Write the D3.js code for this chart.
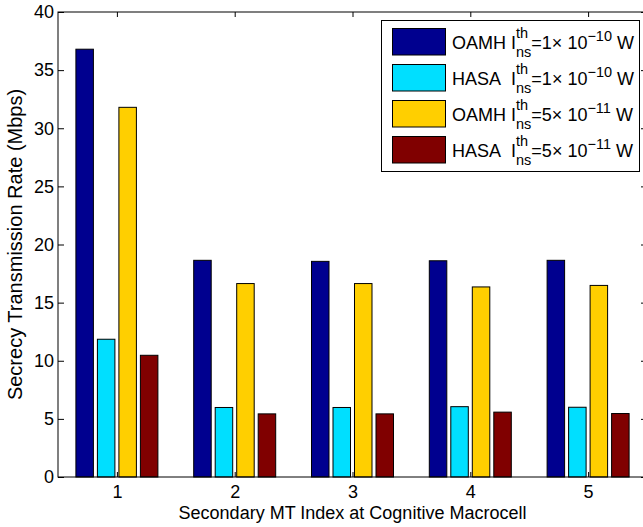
<!DOCTYPE html>
<html>
<head>
<meta charset="utf-8">
<script src="https://cdn.jsdelivr.net/npm/d3@7"></script>
<style>
  body { margin: 0; background: #fff; }
  svg { display: block; font-family: "Liberation Sans", Arial, Helvetica, sans-serif; }
  .axis text { font-size: 18px; fill: #000; }
  .axis line { stroke: #000; }
</style>
</head>
<body>
<div id="chart"></div>
<script>
// Data_____________________________________________________
const categories = [1, 2, 3, 4, 5];
const oamh1e10 = [36.8, 18.64, 18.55, 18.6, 18.64];
const hasa1e10 = [11.85, 5.98, 5.98, 6.05, 6.0];
const oamh5e11 = [31.8, 16.64, 16.64, 16.35, 16.48];
const hasa5e11 = [10.47, 5.43, 5.43, 5.58, 5.46];
const seriesNames = ['OAMH', 'HASA', 'OAMH', 'HASA'];
const seriesMant = ['1', '1', '5', '5'];
const seriesExp = ['\u221210', '\u221210', '\u221211', '\u221211'];
const seriesColors = ['#00008f', '#00dfff', '#ffcf00', '#800000'];
const yTicks = [0, 5, 10, 15, 20, 25, 30, 35, 40];

const series = [oamh1e10, hasa1e10, oamh5e11, hasa5e11];

// Layout___________________________________________________
const width = 643, height = 527;
const pLeft = 58, pRight = 647, pTop = 12, pBottom = 477;

const svg = d3.select('#chart')
    .append('svg')
    .attr('width', width)
    .attr('height', height);

const xScale = d3.scaleLinear().domain([0.5, 5.5]).range([pLeft, pRight]);
const yScale = d3.scaleLinear().domain([0, 40]).range([pBottom, pTop]);
const unit = xScale(1) - xScale(0.5);
const inner = d3.scaleBand()
    .domain(d3.range(series.length))
    .range([-unit * 0.73, unit * 0.73])
    .paddingInner(0.186)
    .paddingOuter(0.093);

// Bars_____________________________________________________
series.forEach((vals, s) => {
    svg.append('g')
        .selectAll('rect')
        .data(vals)
        .enter()
        .append('rect')
        .attr('x', (d, i) => xScale(categories[i]) + inner(s))
        .attr('width', inner.bandwidth())
        .attr('y', d => yScale(d))
        .attr('height', d => yScale(0) - yScale(d))
        .attr('fill', seriesColors[s])
        .attr('stroke', '#000')
        .attr('stroke-width', 1);
});

// Axes_____________________________________________________
svg.append('g')
    .attr('class', 'axis')
    .attr('transform', `translate(${pLeft},0)`)
    .call(d3.axisLeft(yScale).tickValues(yTicks).tickSize(-6).tickSizeOuter(0).tickPadding(4))
    .call(g => g.select('.domain').remove());
svg.append('g')
    .attr('class', 'axis')
    .attr('transform', `translate(${pRight},0)`)
    .call(d3.axisRight(yScale).tickValues(yTicks).tickSize(-6).tickSizeOuter(0).tickFormat(''))
    .call(g => g.select('.domain').remove());
svg.append('g')
    .attr('class', 'axis')
    .attr('transform', `translate(0,${pBottom})`)
    .call(d3.axisBottom(xScale).tickValues(categories).tickSize(-5).tickSizeOuter(0).tickPadding(8).tickFormat(d3.format('d')))
    .call(g => g.select('.domain').remove());
svg.append('g')
    .attr('class', 'axis')
    .attr('transform', `translate(0,${pTop})`)
    .call(d3.axisTop(xScale).tickValues(categories).tickSize(-5).tickSizeOuter(0).tickFormat(''))
    .call(g => g.select('.domain').remove());

svg.append('rect')
    .attr('x', pLeft).attr('y', pTop)
    .attr('width', pRight - pLeft).attr('height', pBottom - pTop)
    .attr('fill', 'none').attr('stroke', '#000').attr('stroke-width', 1);

// Axis labels
svg.append('text')
    .attr('x', (pLeft + pRight) / 2)
    .attr('y', 519)
    .attr('text-anchor', 'middle')
    .style('font-size', '18px')
    .text('Secondary MT Index at Cognitive Macrocell');
svg.append('text')
    .attr('transform', `translate(22,${(pTop + pBottom) / 2}) rotate(-90)`)
    .attr('text-anchor', 'middle')
    .style('font-size', '20px')
    .text('Secrecy Transmission Rate (Mbps)');

// Legend___________________________________________________
const legend = svg.append('g');
legend.append('rect')
    .attr('x', 381.5).attr('y', 20.5)
    .attr('width', 258).attr('height', 151)
    .attr('fill', '#fff').attr('stroke', '#000');

function drawRich(parent, x, y, parts) {
    let cx = x;
    parts.forEach(p => {
        if (p.stack) {
            const a = parent.append('text').attr('x', cx).attr('y', y + p.supDy)
                .style('font-size', p.size + 'px').text(p.sup);
            const b = parent.append('text').attr('x', cx).attr('y', y + p.subDy)
                .style('font-size', p.size + 'px').text(p.sub);
            cx += Math.max(a.node().getComputedTextLength(), b.node().getComputedTextLength());
        } else {
            const t = parent.append('text').attr('x', cx).attr('y', y + (p.dy || 0))
                .style('font-size', p.size + 'px').text(p.t);
            cx += t.node().getComputedTextLength();
        }
    });
}

seriesNames.forEach((name, i) => {
    const ry = 28.5 + i * 36;
    legend.append('rect')
        .attr('x', 392.5).attr('y', ry)
        .attr('width', 53).attr('height', 26.5)
        .attr('fill', seriesColors[i]).attr('stroke', '#000');
    const pre = name === 'HASA' ? name + '\u00a0\u00a0I' : name + '\u00a0I';
    drawRich(legend, 452, ry + 20, [
        {t: pre, size: 18},
        {stack: true, sup: 'th', sub: 'ns', size: 14.5, supDy: -10.5, subDy: 8.5},
        {t: '=' + seriesMant[i] + '\u00d7\u00a010', size: 18},
        {t: seriesExp[i], size: 14.5, dy: -8},
        {t: '\u00a0W', size: 18}
    ]);
});
</script>
</body>
</html>
